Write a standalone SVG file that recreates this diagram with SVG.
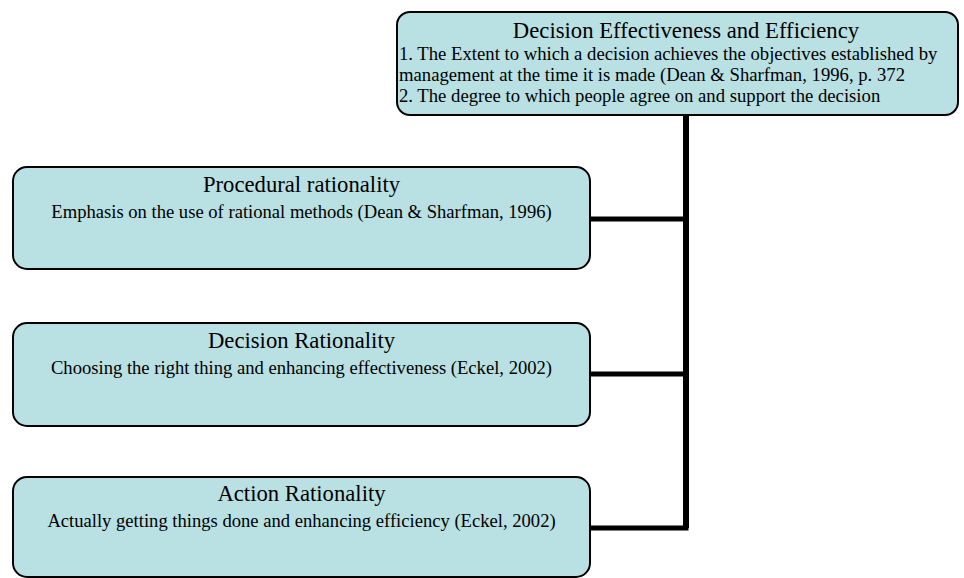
<svg xmlns="http://www.w3.org/2000/svg" width="964" height="578" viewBox="0 0 964 578">
<style>
.box{fill:#b9e0e3;stroke:#000;stroke-width:2}
.h{font-size:22.7px;text-anchor:middle}
.s{font-size:18.6px;text-anchor:middle}
.l{font-size:18.7px}
.c{fill:none;stroke:#000;stroke-linejoin:miter}
</style>
<rect width="964" height="578" fill="#fff"/>
<g id="connectors">
<path class="c" stroke-width="6" d="M686 115 V528"/>
<path class="c" stroke-width="5" d="M590 219 H686 M590 374 H686 M590 528 H688.5"/>
</g>
<g font-family="'Times New Roman', 'Liberation Serif', Tinos, serif" fill="#000">
<g id="top">
<rect class="box" x="397" y="12" width="561" height="103" rx="13"/>
<text class="h" x="686" y="38">Decision Effectiveness and Efficiency</text>
<text class="l" x="399" y="60">1. The Extent to which a decision achieves the objectives established by</text>
<text class="l" x="399" y="81">management at the time it is made (Dean &amp; Sharfman, 1996, p. 372</text>
<text class="l" x="399" y="102">2. The degree to which people agree on and support the decision</text>
</g>
<g id="procedural">
<rect class="box" x="13" y="167" width="577" height="102" rx="14"/>
<text class="h" x="301.5" y="192">Procedural rationality</text>
<text class="s" x="301.5" y="218">Emphasis on the use of rational methods (Dean &amp; Sharfman, 1996)</text>
</g>
<g id="decision">
<rect class="box" x="13" y="323" width="577" height="103" rx="14"/>
<text class="h" x="301.5" y="348">Decision Rationality</text>
<text class="s" x="301.5" y="374">Choosing the right thing and enhancing effectiveness (Eckel, 2002)</text>
</g>
<g id="action">
<rect class="box" x="13" y="477" width="577" height="100" rx="14"/>
<text class="h" x="301.5" y="501">Action Rationality</text>
<text class="s" x="301.5" y="527">Actually getting things done and enhancing efficiency (Eckel, 2002)</text>
</g>
</g>
</svg>
